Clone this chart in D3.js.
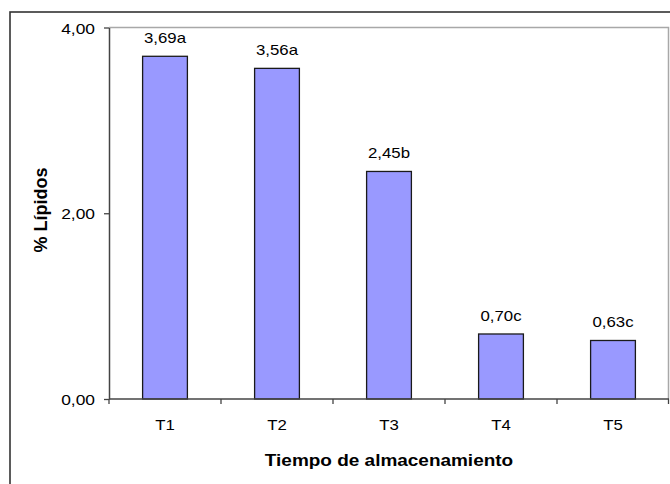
<!DOCTYPE html>
<html>
<head>
<meta charset="utf-8">
<script src="https://cdn.jsdelivr.net/npm/d3@7"></script>
<style>
  html, body { margin: 0; padding: 0; background: #fff; }
  svg { display: block; font-family: "Liberation Sans", Arial, sans-serif; }
</style>
</head>
<body>
<svg id="chart" width="670" height="484"></svg>
<script>
// Lipid content per storage time
const categories = ["T1", "T2", "T3", "T4", "T5"];
const values = [3.69, 3.56, 2.45, 0.70, 0.63];
const groupLetters = ["a", "a", "b", "c", "c"];
const yTicks = [0, 2, 4];
const yTitle = "% Lípidos";
const xTitle = "Tiempo de almacenamiento";

const esLocale = d3.formatLocale({ decimal: ",", thousands: ".", grouping: [3], currency: ["", " €"] });
const fmt = esLocale.format(".2f");

const svg = d3.select("#chart");
const plot = { left: 109, right: 669, top: 27.5, bottom: 399 };
const sx = 1.2; // horizontal widening of the text

// Outer frame
svg.append("rect")
  .attr("x", 10).attr("y", 12).attr("width", 720).attr("height", 520)
  .attr("fill", "none").attr("stroke", "#333").attr("stroke-width", 1.6);

const x = d3.scaleBand().domain(categories).range([plot.left, plot.right]).paddingInner(0).paddingOuter(0);
const y = d3.scaleLinear().domain([0, 4]).range([plot.bottom, plot.top]);

// Plot-area border (top and right)
svg.append("path")
  .attr("d", `M${plot.left},${plot.top}H${plot.right - 0.5}V${plot.bottom}`)
  .attr("fill", "none").attr("stroke", "#a8a8a8").attr("stroke-width", 1.5);

// Bars
const barW = x.bandwidth() * 0.4;
svg.append("g").selectAll("rect").data(categories).join("rect")
  .attr("x", (d) => x(d) + (x.bandwidth() - barW) / 2)
  .attr("y", (d, i) => y(values[i]))
  .attr("width", barW)
  .attr("height", (d, i) => y(0) - y(values[i]))
  .attr("fill", "#9999ff")
  .attr("stroke", "#1a1a1a").attr("stroke-width", 1.3);

// Value labels with significance letters
svg.append("g").selectAll("text").data(categories).join("text")
  .attr("transform", (d, i) => `translate(${x(d) + x.bandwidth() / 2},${y(values[i]) - 13}) scale(${sx},1)`)
  .attr("text-anchor", "middle")
  .attr("font-size", 14)
  .attr("fill", "#000")
  .text((d, i) => fmt(values[i]) + groupLetters[i]);

// Y axis
const yAxis = svg.append("g")
  .attr("transform", `translate(${plot.left},0)`)
  .call(d3.axisLeft(y).tickValues(yTicks).tickFormat(fmt).tickSize(5).tickSizeOuter(0));
yAxis.select(".domain").attr("stroke", "#444").attr("stroke-width", 1.5);
yAxis.selectAll(".tick line").attr("stroke", "#444").attr("stroke-width", 1.3);
yAxis.selectAll(".tick text")
  .attr("x", null).attr("dy", null)
  .attr("transform", `translate(-14,5.5) scale(${sx},1)`)
  .attr("font-size", 14.5)
  .attr("font-family", null)
  .attr("fill", "#000");

// X axis: baseline, boundary ticks, category labels
const xAxis = svg.append("g").attr("transform", `translate(0,${plot.bottom})`);
xAxis.append("line")
  .attr("x1", plot.left).attr("x2", plot.right)
  .attr("stroke", "#444").attr("stroke-width", 1.6);
const bounds = categories.map((c) => x(c)).concat([x.range()[1] - 0.5]);
xAxis.selectAll("line.tk").data(bounds).join("line")
  .attr("class", "tk")
  .attr("x1", (d) => d).attr("x2", (d) => d)
  .attr("y1", 0).attr("y2", 5)
  .attr("stroke", "#444").attr("stroke-width", 1.3);
xAxis.selectAll("text").data(categories).join("text")
  .attr("transform", (d) => `translate(${x(d) + x.bandwidth() / 2},31) scale(${sx},1)`)
  .attr("text-anchor", "middle")
  .attr("font-size", 14)
  .attr("fill", "#000")
  .text((d) => d);

// Axis titles
svg.append("text")
  .attr("transform", `translate(${(plot.left + plot.right) / 2},466) scale(1.15,1)`)
  .attr("text-anchor", "middle")
  .attr("font-size", 16.5).attr("font-weight", "bold")
  .attr("fill", "#000")
  .text(xTitle);

svg.append("text")
  .attr("transform", "translate(47,210) rotate(-90)")
  .attr("text-anchor", "middle")
  .attr("font-size", 18).attr("font-weight", "bold")
  .attr("fill", "#000")
  .text(yTitle);
</script>
</body>
</html>
